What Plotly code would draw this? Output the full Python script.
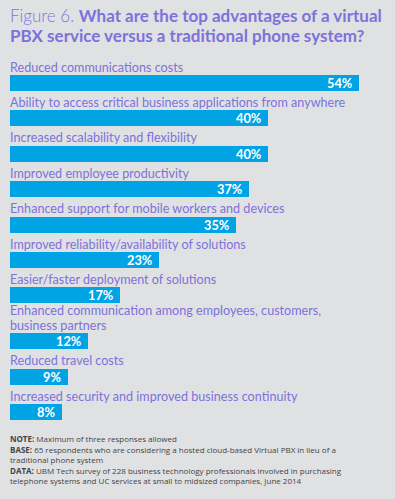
import plotly.graph_objects as go

categories = [
    "Reduced communications costs",
    "Ability to access critical business applications from anywhere",
    "Increased scalability and flexibility",
    "Improved employee productivity",
    "Enhanced support for mobile workers and devices",
    "Improved reliability/availability of solutions",
    "Easier/faster deployment of solutions",
    "Enhanced communication among employees, customers,<br>business partners",
    "Reduced travel costs",
    "Increased security and improved business continuity",
]
values = [54, 40, 40, 37, 35, 23, 17, 12, 9, 8]
value_labels = [f"{v}%" for v in values]

title_light = "Figure 6. "
title_lines = [
    "What are the top advantages of a virtual",
    "PBX service versus a traditional phone system?",
]
footnote_lines = [
    "<b>NOTE:</b> Maximum of three responses allowed",
    "<b>BASE:</b> 65 respondents who are considering a hosted cloud-based Virtual PBX in lieu of a",
    "traditional phone system",
    "<b>DATA:</b> UBM Tech survey of 228 business technology professionals involved in purchasing",
    "telephone systems and UC services at small to midsized companies, June 2014",
]

BG = "#e0e1e3"
BAR = "#00a3e4"
PURPLE = "#7d72dc"
W, H = 395, 499

# layout: y axis in pixel units (top=0), rows spaced by label line count
first_center = 83
row_step = 35.4
extra_line = 10.5
label_line = 14.4
centers = []
acc = first_center
for i, c in enumerate(categories):
    if i > 0:
        acc += row_step + extra_line * c.count("<br>")
    centers.append(acc)
bar_h = 16

fig = go.Figure()
fig.add_trace(go.Bar(
    x=values, y=centers, orientation="h", width=bar_h,
    marker=dict(color=BAR, line=dict(width=0)),
    hoverinfo="skip",
))

annotations = []
for c, y, v, t in zip(categories, centers, values, value_labels):
    lines = c.split("<br>")
    n = len(lines)
    for k, ln in enumerate(lines):
        annotations.append(dict(
            x=0, y=y - bar_h / 2 + 0.5 - (n - 1 - k) * label_line, xref="x", yref="y", text=ln,
            showarrow=False, xanchor="left", yanchor="bottom", align="left",
            xshift=-1, borderpad=0,
            font=dict(family="Lato", size=12.6, color=PURPLE),
        ))
    annotations.append(dict(
        x=v, y=y, xref="x", yref="y", text=f"<b>{t}</b>",
        showarrow=False, xanchor="right", yanchor="middle", xshift=-6,
        borderpad=0,
        font=dict(family="Lato", size=12.8, color="white"),
    ))

for k, ln in enumerate(title_lines):
    txt = (f"<span style='font-weight:300'>{title_light}</span><b>{ln}</b>" if k == 0 else f"<b>{ln}</b>")
    annotations.append(dict(
        x=0, y=28 + k * 19.7, xref="x", yref="y", text=txt,
        showarrow=False, xanchor="left", yanchor="bottom", align="left",
        xshift=-2,
        font=dict(family="Lato", size=17, color=PURPLE),
    ))
for k, ln in enumerate(footnote_lines):
    annotations.append(dict(
        x=0, y=446 + k * 10.5, xref="x", yref="y", text=ln,
        showarrow=False, xanchor="left", yanchor="bottom", align="left",
        xshift=-2,
        font=dict(family="Open Sans", size=8, color="#444444"),
    ))

fig.update_layout(
    width=W, height=H,
    margin=dict(l=10, r=0, t=0, b=0),
    paper_bgcolor=BG, plot_bgcolor=BG,
    showlegend=False,
    xaxis=dict(range=[0, (W - 10) / 6.46], visible=False, fixedrange=True),
    yaxis=dict(range=[H, 0], visible=False, fixedrange=True),
    annotations=annotations,
    bargap=0,
)

fig.write_html("out.html", config={"displayModeBar": False},
               post_script="document.body.style.margin='0';document.body.style.overflow='hidden';")
